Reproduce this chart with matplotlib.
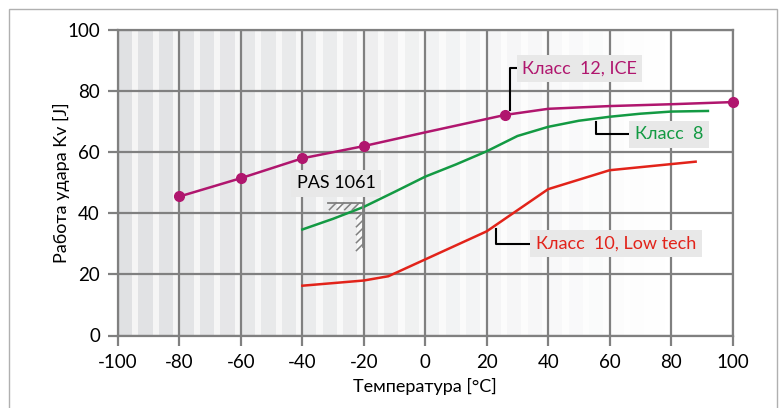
import numpy as np
import matplotlib
matplotlib.use("Agg")
import matplotlib.pyplot as plt
from matplotlib.patches import Rectangle

plt.rcParams['font.family'] = ['Lato', 'DejaVu Sans']

# Класс 12, ICE
t_ice = [-80, -60, -40, -20, 0, 26, 40, 60, 80, 100]
kv_ice = [45.5, 51.5, 58.0, 62.0, 66.5, 72.2, 74.2, 75.1, 75.7, 76.4]
ice_marked = [-80, -60, -40, -20, 26, 100]
kv_ice_marked = [45.5, 51.5, 58.0, 62.0, 72.2, 76.4]

# Класс 8
t_k8 = [-40, -30, -20, -10, 0, 10, 20, 30, 40, 50, 60, 70, 80, 92]
kv_k8 = [34.7, 38.2, 42.1, 47.0, 52.0, 56.0, 60.3, 65.3, 68.3, 70.3, 71.6, 72.6, 73.3, 73.5]

# Класс 10, Low tech
t_k10 = [-40, -20, -12, 20, 40, 60, 88]
kv_k10 = [16.3, 18.0, 19.4, 34.1, 47.9, 54.1, 56.9]

xticks = [-100, -80, -60, -40, -20, 0, 20, 40, 60, 80, 100]
yticks = [0, 20, 40, 60, 80, 100]

c_ice = '#b0166e'
c_k8 = '#139a43'
c_k10 = '#e2231a'
grid_c = '#808080'
box_c = '#e8e8e8'

fig = plt.figure(figsize=(7.82, 4.08), dpi=100)
ax = fig.add_axes([118 / 782, 1 - 335.5 / 408, 614.5 / 782, 305.5 / 408])

# outer frame
fig.patches.append(Rectangle((9 / 782, -0.05), 768 / 782, 1 - 9 / 408 + 0.05,
                             transform=fig.transFigure, fill=False,
                             edgecolor='#b0b0b0', linewidth=1.0))

# striped background fading to white on the right
period = 20 / 3
dark0 = np.array([0.878, 0.882, 0.890])
light0 = np.array([0.96, 0.96, 0.96])
x0 = -100.0
while x0 < 100:
    t = min(max((x0 + 100) / 180, 0), 1)
    dc = dark0 * (1 - t) + t
    lc = light0 * (1 - t) + t
    ax.axvspan(x0, x0 + 4.6, color=dc, lw=0, zorder=0)
    ax.axvspan(x0 + 4.6, x0 + period, color=lc, lw=0, zorder=0)
    x0 += period

ax.set_xlim(-100, 100)
ax.set_ylim(0, 100)
ax.set_xticks(xticks)
ax.set_yticks(yticks)
ax.set_xticklabels([str(v) for v in xticks], fontsize=13.5)
ax.set_yticklabels([str(v) for v in yticks], fontsize=13.5)
ax.tick_params(length=7, width=1.6, color=grid_c, pad=6)
ax.grid(True, color=grid_c, linewidth=1.6, zorder=1)
ax.set_axisbelow(True)
for s in ax.spines.values():
    s.set_color(grid_c)
    s.set_linewidth(1.6)

ax.set_xlabel('Температура [°C]', fontsize=13, labelpad=5)
ax.set_ylabel('Работа удара Kv [J]', fontsize=13)
ax.yaxis.set_label_coords(-0.078, 0.5)

ax.plot(t_k10, kv_k10, color=c_k10, lw=1.8, zorder=3)
ax.plot(t_k8, kv_k8, color=c_k8, lw=1.8, zorder=3)
ax.plot(t_ice, kv_ice, color=c_ice, lw=1.8, zorder=3)
ax.plot(ice_marked, kv_ice_marked, 'o', color=c_ice, ms=7, zorder=4, clip_on=False)

# leader lines
ax.plot([27.5, 27.5, 30.6], [73.8, 87.4, 87.4], color='black', lw=1.5, zorder=5)
ax.plot([55.6, 55.6, 67.3], [69.9, 65.8, 65.8], color='black', lw=1.5, zorder=5)
ax.plot([23.1, 23.1, 34.8], [35.0, 30.1, 30.1], color='black', lw=1.5, zorder=5)

bbox = dict(boxstyle='square,pad=0.3', facecolor=box_c, edgecolor='none')
ax.text(31.5, 87.4, 'Класс  12, ICE', color=c_ice, fontsize=13, va='center', ha='left', bbox=bbox, zorder=6)
ax.text(68.2, 65.8, 'Класс  8', color=c_k8, fontsize=13, va='center', ha='left', bbox=bbox, zorder=6)
ax.text(36.0, 30.1, 'Класс  10, Low tech', color=c_k10, fontsize=13, va='center', ha='left', bbox=bbox, zorder=6)
ax.text(-41.8, 49.8, 'PAS 1061', color='black', fontsize=13, va='center', ha='left', bbox=bbox, zorder=6)

# PAS 1061 limit symbol with hatching
hx0, hx1, hy0, hy1 = -31.5, -20.2, 43.4, 28.9
ax.plot([hx0, hx1, hx1], [hy0, hy0, hy1], color=grid_c, lw=1.3, zorder=5)
for xs in np.arange(hx0 + 2.5, hx1 + 0.1, 2.5):
    ax.plot([xs - 2.2, xs], [hy0 - 2.2, hy0], color=grid_c, lw=1.1, zorder=5)
for ys in np.arange(hy0 - 3.0, hy1, -2.6):
    ax.plot([hx1 - 2.2, hx1], [ys - 2.2, ys], color=grid_c, lw=1.1, zorder=5)

fig.savefig('out.png', dpi=100)
